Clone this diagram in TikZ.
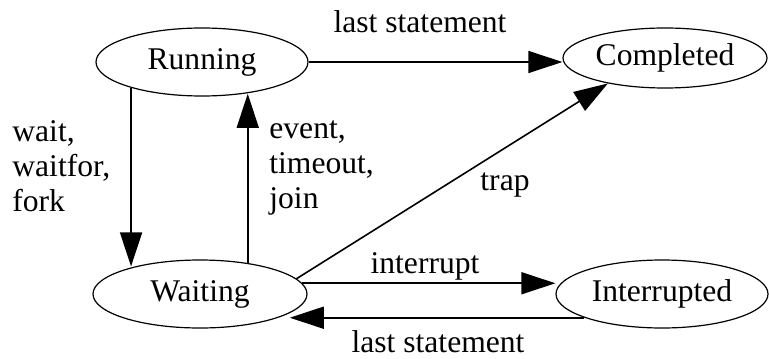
\documentclass[tikz,border=0pt]{standalone}
\usepackage{fontspec}
\setmainfont{Liberation Serif}
\usetikzlibrary{arrows.meta,shapes.geometric}
\begin{document}
\begin{tikzpicture}[x=0.5pt,y=-0.5pt,
  every node/.style={font=\fontsize{15.8}{17.5}\selectfont},
  state/.style={ellipse,draw,line width=0.6pt,inner sep=0pt},
  conn/.style={line width=0.8pt,-{Triangle[length=17pt,width=11pt]}},
  lbl/.style={inner sep=0pt}]
\useasboundingbox (0,0) rectangle (769,358);
\node[state,minimum width=106pt,minimum height=34pt] (run) at (202,62) {Running};
\node[state,minimum width=102pt,minimum height=30pt] (comp) at (665,58) {Completed};
\node[state,minimum width=107pt,minimum height=34pt] (wait) at (200,294) {Waiting};
\node[state,minimum width=106pt,minimum height=34pt] (intr) at (662,294) {Interrupted};
% running -> completed
\draw[conn] (run.east) -- (run.east -| comp.west);
\node[lbl] (l1) at (420,22) {last statement};
% running -> waiting
\draw[conn] (run.200) -- (run.200 |- wait.157);
\node[lbl,align=left,anchor=north west] (l2) at (12,120) {wait,\\waitfor,\\fork};
% waiting -> running
\draw[conn] (wait.33) -- (wait.33 |- run.-37);
\node[lbl,align=left,anchor=north west] (l3) at (269,120) {event,\\timeout,\\join};
% waiting -> completed
\draw[conn] (wait.9) -- (comp.204);
\node[lbl] (l4) at (505,185) {trap};
% waiting -> interrupted
\draw[conn] (wait.6) -- (wait.6 -| intr.west);
\node[lbl] (l5) at (425,266) {interrupt};
% interrupted -> waiting
\draw[conn] (intr.197) -- (intr.197 -| wait.-12);
\node[lbl] (l6) at (438,342) {last statement};
\end{tikzpicture}
\end{document}
